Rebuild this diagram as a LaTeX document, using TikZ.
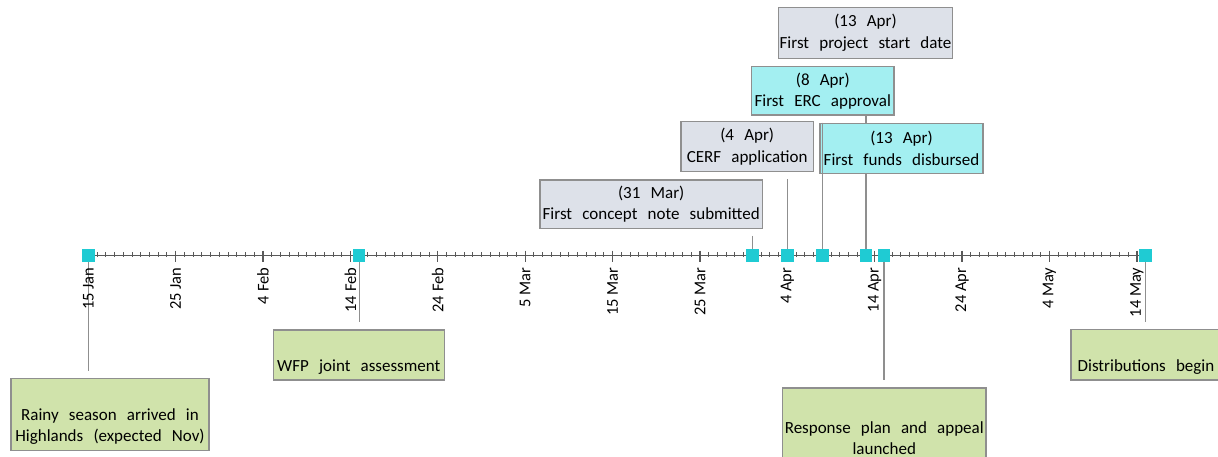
\documentclass[tikz,border=0pt]{standalone}
\usepackage{fontspec}
\setmainfont{Carlito}
\definecolor{markcyan}{HTML}{1FCBD3}
\definecolor{boxgray}{HTML}{DDE1E9}
\definecolor{boxcyan}{HTML}{A3EFF1}
\definecolor{boxgreen}{HTML}{D0E3AB}
\definecolor{edgegray}{HTML}{8F8F8F}
\definecolor{axisgray}{HTML}{595959}
\newcommand\evtextfont{\fontsize{17}{21.2}\selectfont\spaceskip=0.6em\relax}
\newcommand\ticktextfont{\fontsize{16.5}{19}\selectfont}
\pgfdeclarelayer{back}
\pgfsetlayers{back,main}
\begin{document}
\begin{tikzpicture}[x=1pt,y=-1pt,
  evbox/.style={draw=edgegray, line width=1.2pt, inner sep=0pt, align=center,
    text=black, font=\evtextfont},
  graybox/.style={evbox, fill=boxgray},
  cyanbox/.style={evbox, fill=boxcyan},
  greenbox/.style={evbox, fill=boxgreen},
  marker/.style={fill=markcyan, draw=none, minimum size=12.5pt, inner sep=0pt},
  conn/.style={draw=edgegray, line width=1.3pt},
  upconn/.style={conn, shorten <=7pt},
  downconn/.style={conn, shorten >=7pt},
  axisline/.style={draw=axisgray, line width=1.5pt},
  minortick/.style={draw=axisgray, line width=0.9pt},
  majortick/.style={draw=axisgray, line width=1.3pt},
  ticklab/.style={rotate=90, anchor=east, inner sep=0pt, text=black, font=\ticktextfont}
]
\useasboundingbox (0,0) rectangle (1218,457);
\clip (0,0) rectangle (1218,457);

% time axis: 15 Jan at x = 88.3, 8.738 units per day
\coordinate (axL) at (82,255.5);
\coordinate (axR) at (1151,255.5);
\draw[axisline] (axL) -- (axR);
\foreach \d in {0,...,121}
  \draw[minortick] (88.3+8.738*\d,252.3) -- ++(0,4.5);
\foreach \d in {0,10,...,120}
  \draw[majortick] (88.3+8.738*\d,250.7) -- ++(0,11.3);

% event dates on the axis
\coordinate (mJan15) at (88.3,255.5);
\coordinate (mFeb15) at (359.2,255.5);
\coordinate (mMar31) at (752.4,255.5);
\coordinate (mApr4)  at (787.3,255.5);
\coordinate (mApr8)  at (822.3,255.5);
\coordinate (mApr13) at (866.0,255.5);
\coordinate (mApr15) at (883.9,255.5);
\coordinate (mMay15) at (1145.6,255.5);

% event boxes above the axis
\node[graybox, minimum width=174.4pt, minimum height=51pt] (start) at (865.5,32.8)
  {(13 Apr)\\First project start date};
\node[cyanbox, minimum width=142.3pt, minimum height=48.3pt] (erc) at (822.8,90.8)
  {(8 Apr)\\First ERC approval};
\node[graybox, minimum width=132.3pt, minimum height=50pt] (cerf) at (747.2,146.7)
  {(4 Apr)\\CERF application};
\node[cyanbox, minimum width=163pt, minimum height=50pt] (funds) at (901.5,148.3)
  {(13 Apr)\\First funds disbursed};
\node[graybox, minimum width=222.3pt, minimum height=48.3pt] (concept) at (651.2,204.2)
  {(31 Mar)\\First concept note submitted};

% event boxes below the axis
\node[greenbox, minimum width=198pt, minimum height=72.4pt] (rainy) at (110,414.5)
  {\strut\\Rainy season arrived in\\Highlands (expected Nov)};
\node[greenbox, minimum width=171pt, minimum height=50pt] (wfp) at (358.8,355)
  {\strut\\WFP joint assessment};
\node[greenbox, minimum width=203.3pt, minimum height=76pt] (response) at (884.3,426)
  {\strut\\Response plan and appeal\\launched};
\node[greenbox, minimum width=150pt, minimum height=50.7pt] (distrib) at (1146,354.7)
  {\strut\\Distributions begin};

% connectors behind the boxes
\begin{pgfonlayer}{back}
\draw[upconn] (start.south -| mApr13) -- (mApr13);
\draw[upconn] (funds.south -| mApr13) -- (mApr13);
\draw[upconn] (cerf.south -| mApr4) -- (mApr4);
\draw[upconn] (concept.south -| mMar31) -- (mMar31);
\draw[downconn] (mJan15) -- (rainy.north -| mJan15);
\draw[downconn] (mFeb15) -- (wfp.north -| mFeb15);
\draw[downconn] (mApr15) -- (response.north -| mApr15);
\draw[downconn] (mMay15) -- (distrib.north -| mMay15);
\end{pgfonlayer}
% the 8 Apr line runs over the edge of the 13 Apr funds box
\draw[upconn] (erc.south -| mApr8) -- (mApr8);

% markers
\foreach \m in {mJan15,mFeb15,mMar31,mApr4,mApr8,mApr13,mApr15,mMay15}
  \node[marker] (\m box) at (\m) {};

% tick labels
\foreach \d/\lab [count=\k] in {0/15 Jan,10/25 Jan,20/4 Feb,30/14 Feb,40/24 Feb,
    50/5 Mar,60/15 Mar,70/25 Mar,80/4 Apr,90/14 Apr,100/24 Apr,110/4 May,120/14 May}
  \node[ticklab] (tick\k) at (88.3+8.738*\d,267.5) {\lab};
\end{tikzpicture}
\end{document}
